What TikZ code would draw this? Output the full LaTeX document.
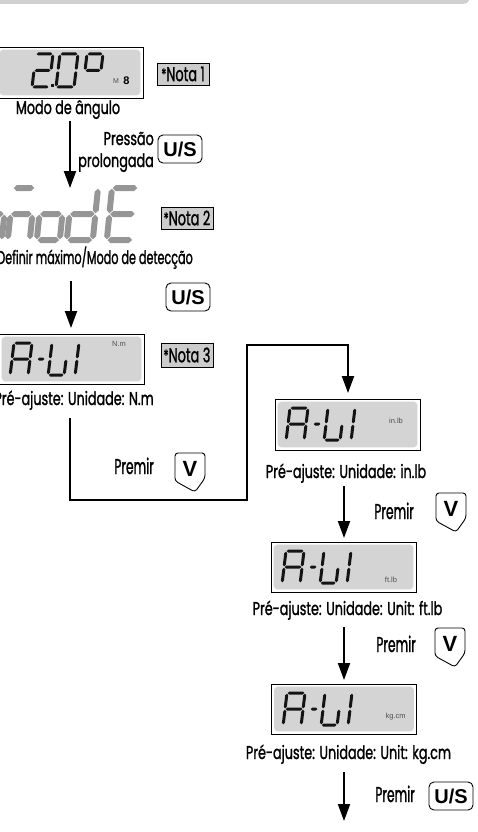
\documentclass[tikz,border=0pt]{standalone}
\usepackage{fontspec}
\usetikzlibrary{arrows.meta}
\newfontfamily\lblfont[FakeStretch=0.69,FakeBold=1.2]{Poppins}
\newfontfamily\defnfont[FakeStretch=0.605,FakeBold=1.2]{Poppins}
\newfontfamily\prfont[FakeStretch=0.57,FakeBold=1.2]{Poppins}
\newfontfamily\notafont[FakeStretch=0.645,FakeBold=1.2]{Poppins}
\newfontfamily\arialfont{Liberation Sans}
\definecolor{lcdgray}{RGB}{212,212,212}
\definecolor{hdrgray}{RGB}{208,208,208}
\definecolor{notagray}{RGB}{204,204,204}
\definecolor{modegray}{RGB}{150,150,150}
\definecolor{segblack}{RGB}{20,20,20}
\definecolor{unitgray}{RGB}{80,80,80}
\newcommand\hseg[3]{\fill (#1,#3) -- ({#1+\sgT/2},{#3-\sgT/2}) -- ({#2-\sgT/2},{#3-\sgT/2}) -- (#2,#3) -- ({#2-\sgT/2},{#3+\sgT/2}) -- ({#1+\sgT/2},{#3+\sgT/2}) -- cycle;}
\newcommand\vseg[3]{\fill (#1,#2) -- ({#1+\sgT/2},{#2+\sgT/2}) -- ({#1+\sgT/2},{#3-\sgT/2}) -- (#1,#3) -- ({#1-\sgT/2},{#3-\sgT/2}) -- ({#1-\sgT/2},{#2+\sgT/2}) -- cycle;}
\newcommand\sega{\hseg{\sgG}{\sgW-\sgG}{0}}
\newcommand\segb{\vseg{\sgW}{\sgG}{\sgH/2-\sgG}}
\newcommand\segc{\vseg{\sgW}{\sgH/2+\sgG}{\sgH-\sgG}}
\newcommand\segd{\hseg{\sgG}{\sgW-\sgG}{\sgH}}
\newcommand\sege{\vseg{0}{\sgH/2+\sgG}{\sgH-\sgG}}
\newcommand\segf{\vseg{0}{\sgG}{\sgH/2-\sgG}}
\newcommand\segg{\hseg{\sgG}{\sgW-\sgG}{\sgH/2}}
% x, y (top-left), W, H, thickness, slant, segments
\newcommand\sevseg[7]{\begin{scope}[shift={(#1,#2)},xslant=#6]\def\sgW{#3}\def\sgH{#4}\def\sgT{#5}\def\sgG{0.7}\foreach \s in {#7}{\csname seg\s\endcsname}\end{scope}}
% A-UI display inside an LCD whose top-left corner is (#1,#2)
\newcommand\auidisp[2]{\begin{scope}[color=segblack]
\sevseg{#1+15}{#2+9}{18}{32}{3}{0.12}{a,b,c,e,f,g}
\sevseg{#1+40}{#2+9}{8}{32}{3}{0.12}{g}
\sevseg{#1+53}{#2+9}{16}{32}{3}{0.12}{f,e,d,c}
\sevseg{#1+63}{#2+9}{17}{32}{3}{0.12}{b,c}
\end{scope}}
\newcommand\lcdinner[1]{\fill[lcdgray, rounded corners=4pt] ([shift={(3,3)}]#1.north west) rectangle ([shift={(-3,-3)}]#1.south east);}
\newcommand\vbtn[3]{\draw[line width=0.9pt, rounded corners=3pt, fill=white] (#2,#3) -- ++(30,0) -- ++(0,25) -- ++(-10,14) -- ++(-20,-11) -- cycle;
\node[font=\arialfont\bfseries\fontsize{22}{22}\selectfont, inner sep=0pt] (#1) at (#2+15,#3+15.5) {V};}
\newcommand\notaast{{\fontsize{16}{16}\selectfont\raisebox{1pt}{*}}}
\tikzset{
 lcd/.style={draw, line width=0.9pt, fill=white, minimum width=145pt, minimum height=50pt, inner sep=0pt},
 captxt/.style={font=\lblfont\fontsize{18.5}{22}\selectfont, inner sep=0pt},
 prtxt/.style={font=\prfont\fontsize{21.5}{22}\selectfont, inner sep=0pt},
 nota/.style={draw, line width=0.8pt, fill=notagray, minimum width=52pt, minimum height=22pt, inner sep=0pt, font=\notafont\fontsize{20}{22}\selectfont},
 usbtn/.style={draw, line width=0.9pt, rounded corners=5pt, minimum width=44pt, minimum height=28pt, inner sep=0pt, font=\arialfont\bfseries\fontsize{20}{20}\selectfont},
 unit/.style={font=\arialfont\fontsize{7.5}{8}\selectfont, text=unitgray, inner sep=0pt},
 arr/.style={line width=2pt, -{Triangle[length=17pt,width=12pt]}}
}
\begin{document}
\begin{tikzpicture}[x=1pt,y=-1pt]
\useasboundingbox (0,0) rectangle (477,832);
\clip (0,0) rectangle (477,832);
% header bar
\fill[hdrgray, rounded corners=7pt] (-10,-10) rectangle (470,4);

% LCD 1 : 2.0 degree
\node[lcd, minimum width=146pt, minimum height=51pt] (lcdA) at (70,72.5) {};
\lcdinner{lcdA}
\begin{scope}[color=segblack]
\sevseg{36}{54}{17}{33}{3}{0.12}{a,b,g,e,d}
\fill (50.5,84.5) rectangle (53.5,87.5);
\sevseg{60}{54}{18}{33}{3}{0.12}{a,b,c,d,e,f}
\sevseg{87}{54}{16}{33}{3}{0.12}{a,b,f,g}
\end{scope}
\node[font=\arialfont\fontsize{7}{7}\selectfont, text=unitgray, inner sep=0pt] (mA) at (116,81.5) {M};
\node[font=\arialfont\bfseries\fontsize{11}{11}\selectfont, inner sep=0pt] (mB) at (126.5,80.5) {8};
\node[nota] (nota1) at (183,74) {\notaast Nota 1};
\node[captxt, anchor=base] (t1) at (68,114) {Modo de ângulo};

% arrow 1
\coordinate (a1s) at (70,121);
\coordinate (a1e) at (70,188);
\draw[arr] (a1s) -- (a1e);
\node[captxt, anchor=base east] (t2a) at (154,145) {Pressão};
\node[captxt, anchor=base east] (t2b) at (154,167) {prolongada};
\node[usbtn] (us1) at (180,149) {U/S};

% mode display
\begin{scope}[color=modegray]
\sevseg{-17}{188}{24}{52}{6}{0.1}{g,c}
\sevseg{13}{188}{22}{52}{6}{0.1}{a,g,c,e}
\sevseg{42}{188}{23}{52}{6}{0.1}{g,c,d,e}
\sevseg{72}{188}{26}{52}{6}{0.1}{b,c,d,e,g}
\sevseg{112}{188}{26}{52}{6}{0.1}{a,d,e,f,g}
\end{scope}
\node[nota] (nota2) at (187,218) {\notaast Nota 2};
\node[captxt, font=\defnfont\fontsize{18.5}{22}\selectfont, anchor=base east] (t3) at (193,264) {Definir máximo/Modo de detecção};

% arrow 2
\coordinate (a2s) at (71,281);
\coordinate (a2e) at (71,328);
\draw[arr] (a2s) -- (a2e);
\node[usbtn] (us2) at (188,297) {U/S};

% LCD N.m
\node[lcd] (lcdB) at (71.5,359) {};
\lcdinner{lcdB}
\auidisp{-1}{334}
\node[unit] (uB) at (119,344) {N.m};
\node[nota, minimum height=24pt] (nota3) at (187,355) {\notaast Nota 3};
\node[captxt, anchor=base east] (t4) at (154,405) {Pré-ajuste: Unidade: N.m};

% long connector
\coordinate (p0) at (70,418);
\coordinate (p1) at (70,500);
\coordinate (p2) at (247,500);
\coordinate (p3) at (247,345);
\coordinate (p4) at (348,345);
\coordinate (p5) at (348,393);
\draw[arr] (p0) -- (p1) -- (p2) -- (p3) -- (p4) -- (p5);
\node[prtxt, anchor=base east] (pr1) at (154,474) {Premir};
\vbtn{v1}{175}{453}

% LCD in.lb
\node[lcd, minimum height=51pt] (lcdC) at (347.5,424.5) {};
\lcdinner{lcdC}
\auidisp{275}{399}
\node[unit] (uC) at (396,421) {in.lb};
\node[captxt, anchor=base] (t5) at (346,478) {Pré-ajuste: Unidade: in.lb};

% arrow 3
\coordinate (a3s) at (344,486);
\coordinate (a3e) at (344,538);
\draw[arr] (a3s) -- (a3e);
\node[prtxt, anchor=base east] (pr2) at (414,519) {Premir};
\vbtn{v2}{436}{493}

% LCD ft.lb
\node[lcd] (lcdD) at (343.5,567) {};
\lcdinner{lcdD}
\auidisp{271}{542}
\node[unit] (uD) at (391,580) {ft.lb};
\node[captxt, anchor=base] (t6) at (347.5,615) {Pré-ajuste: Unidade: Unit: ft.lb};

% arrow 4
\coordinate (a4s) at (344,627);
\coordinate (a4e) at (344,680);
\draw[arr] (a4s) -- (a4e);
\node[prtxt, anchor=base east] (pr3) at (416,652) {Premir};
\vbtn{v3}{435}{628}

% LCD kg.cm
\node[lcd] (lcdE) at (344,709) {};
\lcdinner{lcdE}
\auidisp{272}{684}
\node[unit] (uE) at (395.5,717) {kg.cm};
\node[captxt, anchor=base] (t7) at (348.5,759) {Pré-ajuste: Unidade: Unit: kg.cm};

% arrow 5
\coordinate (a5s) at (344,772);
\coordinate (a5e) at (344,821);
\draw[arr] (a5s) -- (a5e);
\node[prtxt, anchor=base east] (pr4) at (415,802) {Premir};
\node[usbtn] (us3) at (451,796) {U/S};
\end{tikzpicture}
\end{document}
